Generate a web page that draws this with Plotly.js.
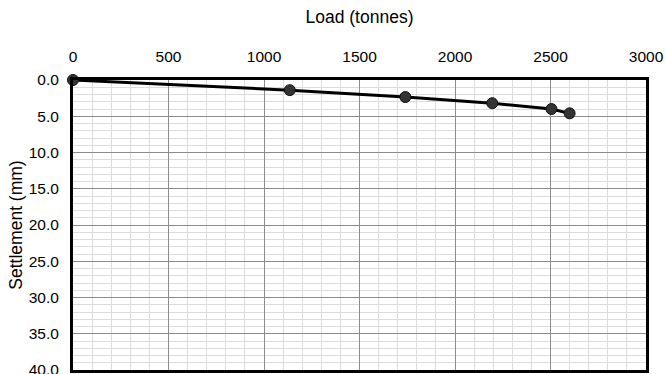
<!DOCTYPE html>
<html>
<head>
<meta charset="utf-8">
<script src="https://cdn.plot.ly/plotly-3.0.1.min.js"></script>
<style>
html,body{margin:0;padding:0;background:#fff;}
#chart{width:666px;height:374px;}
</style>
</head>
<body>
<div id="chart"></div>
<script>
const loadTonnes = [0, 1135, 1740, 2195, 2505, 2600];
const settlementMm = [0, 1.4, 2.35, 3.2, 4.0, 4.6];
const xTickVals = [0, 500, 1000, 1500, 2000, 2500, 3000];
const yTickVals = [0, 5, 10, 15, 20, 25, 30, 35, 40];
const yTickText = ['0.0','5.0','10.0','15.0','20.0','25.0','30.0','35.0','40.0'];

const tickFont = {family: 'Liberation Sans, Arial, sans-serif', size: 15.5, color: '#000'};
const titleFont = {family: 'Liberation Sans, Arial, sans-serif', size: 17.5, color: '#000'};

const trace = {
  x: loadTonnes,
  y: settlementMm,
  type: 'scatter',
  mode: 'lines+markers',
  line: {color: '#000', width: 3},
  marker: {size: 11, color: '#333', line: {color: '#111', width: 1}},
  cliponaxis: false,
  showlegend: false
};

const layout = {
  width: 666,
  height: 374,
  margin: {l: 73, r: 20, t: 80, b: 4},
  paper_bgcolor: '#fff',
  plot_bgcolor: '#fff',
  font: tickFont,
  showlegend: false,
  xaxis: {
    side: 'top',
    range: [0, 3000],
    tickvals: xTickVals,
    ticktext: xTickVals.map(String),
    ticks: 'outside', ticklen: 9, tickcolor: 'rgba(0,0,0,0)',
    ticklabeloverflow: 'allow',
    showgrid: true, gridcolor: '#8c8c8c', gridwidth: 1,
    minor: {dtick: 100, showgrid: true, gridcolor: '#dcdcdc', gridwidth: 1, ticks: ''},
    zeroline: false,
    showline: true, linecolor: '#000', linewidth: 3, mirror: true,
    title: {text: 'Load (tonnes)', font: titleFont, standoff: 20},
    tickfont: tickFont
  },
  yaxis: {
    range: [40, 0],
    tickvals: yTickVals,
    ticktext: yTickText,
    ticks: 'outside', ticklen: 8, tickcolor: 'rgba(0,0,0,0)',
    ticklabeloverflow: 'allow',
    showgrid: true, gridcolor: '#8c8c8c', gridwidth: 1,
    minor: {dtick: 1, showgrid: true, gridcolor: '#dcdcdc', gridwidth: 1, ticks: ''},
    zeroline: false,
    showline: true, linecolor: '#000', linewidth: 3, mirror: true,
    title: {text: 'Settlement (mm)', font: titleFont, standoff: 2},
    tickfont: tickFont
  }
};

Plotly.newPlot('chart', [trace], layout, {displayModeBar: false, staticPlot: true});
</script>
</body>
</html>
